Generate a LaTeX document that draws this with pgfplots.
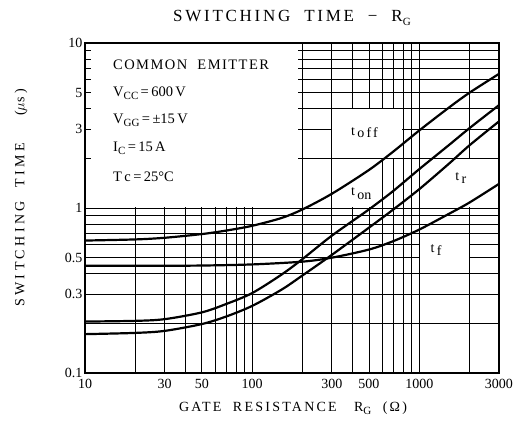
\documentclass[border=0pt]{standalone}
\usepackage{pgfplots}
\pgfplotsset{compat=1.18}
\usepackage{fontspec}
\setmainfont{Liberation Serif}
\newfontfamily\spc[LetterSpace=16]{Liberation Serif}
\newfontfamily\spy[LetterSpace=24]{Liberation Serif}
\newfontfamily\spb[LetterSpace=10]{Liberation Serif}
\newcommand{\sub}[1]{\raisebox{-0.45ex}{\fontsize{11}{11}\selectfont #1}}
\begin{document}
\begin{tikzpicture}[x=1pt,y=1pt]
\useasboundingbox (-85,-49) rectangle (430,373);
\begin{axis}[
  at={(0,0)}, anchor=south west,
  scale only axis, width=414pt, height=330pt,
  xmode=log, ymode=log,
  xmin=10, xmax=3000, ymin=0.1, ymax=10,
  xtick={10,30,50,100,300,500,1000,3000},
  xticklabels={10,30,50,100,300,500,1000,3000},
  ytick={0.1,0.3,0.5,1,3,5,10},
  yticklabels={0.1,0.3,0.5,1,3,5,10},
  minor xtick={20,40,60,70,80,90,200,400,600,700,800,900,2000},
  minor ytick={0.2,0.4,0.6,0.7,0.8,0.9,2,4,6,7,8,9},
  grid=both,
  major grid style={black, line width=0.8pt},
  minor grid style={black, line width=0.8pt},
  major tick length=0pt, minor tick length=0pt,
  axis line style={line width=1.6pt},
  tick label style={font=\fontsize{14}{14}\selectfont},
  xticklabel style={yshift=-3pt},
  yticklabel style={xshift=1pt},
  clip=false,
]
% white label areas
\fill[white] ([xshift=6pt,yshift=1pt]axis cs:10,1) rectangle ([xshift=-4pt,yshift=-1pt]axis cs:200,10);
\fill[white] ([xshift=0.6pt,yshift=0.6pt]axis cs:300,2) rectangle ([xshift=-0.6pt,yshift=-0.6pt]axis cs:800,4);
\fill[white] ([xshift=0.6pt,yshift=0.6pt]axis cs:300,1) rectangle ([xshift=-0.6pt,yshift=-0.6pt]axis cs:600,2);
\fill[white] ([xshift=0.6pt,yshift=0.6pt]axis cs:1000,1) rectangle ([xshift=-0.6pt,yshift=-0.6pt]axis cs:3000,2);
\fill[white] ([xshift=0.6pt,yshift=0.6pt]axis cs:1000,0.4) rectangle ([xshift=-0.6pt,yshift=-0.6pt]axis cs:2000,0.7);
\draw[line width=1.6pt] (rel axis cs:0,0) rectangle (rel axis cs:1,1);

% t_off
\addplot[black, line width=2.2pt, smooth] coordinates {
(10,0.635) (20,0.645) (30,0.66) (50,0.695) (70,0.73) (100,0.78) (150,0.87) (200,0.98) (300,1.22) (500,1.7) (700,2.2) (1000,2.95) (1500,4.05) (2000,5.0) (3000,6.5)};
% t_on
\addplot[black, line width=2.2pt, smooth] coordinates {
(10,0.205) (20,0.207) (30,0.212) (50,0.233) (70,0.262) (100,0.305) (150,0.395) (200,0.49) (300,0.68) (500,0.98) (700,1.27) (1000,1.72) (1500,2.4) (2000,3.05) (3000,4.2)};
% t_r
\addplot[black, line width=2.2pt, smooth] coordinates {
(10,0.172) (20,0.175) (30,0.18) (50,0.198) (70,0.22) (100,0.255) (150,0.32) (200,0.39) (300,0.52) (500,0.76) (700,0.98) (1000,1.3) (1500,1.85) (2000,2.4) (3000,3.35)};
% t_f
\addplot[black, line width=2.2pt, smooth] coordinates {
(10,0.447) (30,0.447) (50,0.448) (100,0.455) (200,0.473) (300,0.5) (500,0.56) (700,0.63) (1000,0.74) (1500,0.92) (2000,1.08) (3000,1.4)};

% curve labels
\node[anchor=west, font=\fontsize{14}{14}\selectfont, inner sep=0pt] at (axis cs:390,2.85) {t\,\raisebox{-0.3ex}{\spc off}};
\node[anchor=west, font=\fontsize{14}{14}\selectfont, inner sep=0pt] at (axis cs:390,1.22) {t\,\raisebox{-0.6ex}{on}};
\node[anchor=west, font=\fontsize{14}{14}\selectfont, inner sep=0pt] at (axis cs:1640,1.52) {t\,\raisebox{-0.5ex}{r}};
\node[anchor=west, font=\fontsize{14}{14}\selectfont, inner sep=0pt] at (axis cs:1165,0.556) {t\,\raisebox{-0.6ex}{f}};
\end{axis}
% conditions text
\begin{scope}[every node/.style={anchor=west, inner sep=0pt, font=\fontsize{14.5}{14.5}\selectfont}]
\node at (28,308) {\spb COMMON\ \ EMITTER};
\node at (28,280) {V\sub{CC}$\,$=$\,$600$\,$V};
\node at (28,253) {V\sub{GG}$\,$=$\,$±15$\,$V};
\node at (28,225) {I\sub{C}$\,$=$\,$15$\,$A};
\node at (28,196) {T$\,$c$\,$=$\,$25°C};
\end{scope}
% titles
\node[font=\fontsize{17}{17}\selectfont, inner sep=0pt] at (207,355) {\spc SWITCHING\ \ TIME\ \ −\ \ R\sub{G}};
\node[font=\fontsize{14}{14}\selectfont, inner sep=0pt, rotate=90] at (-64,175) {\spy SWITCHING\ \ TIME\ \ \ \ ($\mu$s)};
\node[font=\fontsize{14}{14}\selectfont, inner sep=0pt] at (208,-35) {\spc GATE\ \ RESISTANCE\ \ \ R\sub{G}\ \ (Ω)};
\end{tikzpicture}
\end{document}
